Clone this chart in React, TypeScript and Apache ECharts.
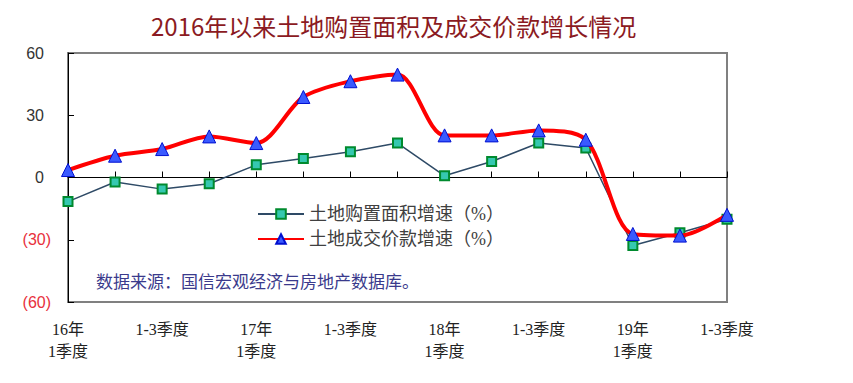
import React, { useEffect, useRef } from "react";
import * as echarts from "echarts";

const categories = [
  "16年\n1季度", "1-2季度", "1-3季度", "1-4季度",
  "17年\n1季度", "1-2季度", "1-3季度", "1-4季度",
  "18年\n1季度", "1-2季度", "1-3季度", "1-4季度",
  "19年\n1季度", "1-2季度", "1-3季度",
];
const areaGrowth = [-11.6, -2.2, -5.6, -3.0, 6.1, 9.2, 12.4, 16.6, 0.8, 7.7, 16.6, 14.2, -32.8, -26.6, -20.1];
const priceGrowth = [3.6, 10.5, 13.7, 19.8, 16.6, 38.8, 46.4, 49.6, 20.3, 20.3, 22.7, 18.2, -27.2, -28.0, -18.0];
const yTicks = [-60, -30, 0, 30, 60];
const seriesNames = ["土地购置面积增速（%）", "土地成交价款增速（%）"];
const titleText = "2016年以来土地购置面积及成交价款增长情况";
const sourceText = "数据来源：国信宏观经济与房地产数据库。";

export default function App() {
  const ref = useRef<HTMLDivElement>(null);
  useEffect(() => {
    document.body.style.margin = "0";
    const chart = echarts.init(ref.current!, null, { renderer: "svg" });
    const cjk = "'Liberation Serif', 'Noto Sans CJK SC', serif";
    chart.setOption({
      animation: false,
      backgroundColor: "#ffffff",
      title: {
        text: titleText,
        left: 146,
        top: 8,
        textStyle: { fontSize: 24, fontWeight: "normal", color: "#8B1A22", fontFamily: "'Noto Sans CJK SC', sans-serif" },
      },
      legend: {
        orient: "vertical",
        left: 252,
        top: 200,
        itemWidth: 46,
        itemHeight: 12,
        itemGap: 7,
        textStyle: { fontSize: 18, color: "#404040", fontFamily: cjk },
        data: seriesNames,
      },
      graphic: [
        {
          type: "text",
          left: 96,
          top: 272,
          style: { text: sourceText, font: "17px 'Noto Sans CJK SC', sans-serif", fill: "#3A3A8C" },
        },
      ],
      grid: {
        left: 68,
        right: 126,
        top: 53,
        bottom: 81,
        show: true,
        borderColor: "#808080",
        borderWidth: 2,
        backgroundColor: "transparent",
      },
      xAxis: [
        {
          type: "category",
          data: categories,
          boundaryGap: false,
          position: "bottom",
          axisLine: { show: false, onZero: false },
          axisTick: { show: false },
          axisLabel: {
            interval: 1,
            margin: 16,
            fontSize: 16,
            lineHeight: 22,
            color: "#222",
            fontFamily: cjk,
          },
          splitLine: { show: false },
        },
        {
          type: "category",
          data: categories,
          boundaryGap: false,
          position: "bottom",
          axisLine: { show: true, onZero: true, lineStyle: { color: "#000", width: 1 } },
          axisTick: { show: true, inside: true, interval: 0, length: 6, lineStyle: { color: "#000" } },
          axisLabel: { show: false },
          splitLine: { show: false },
        },
      ],
      yAxis: {
        type: "value",
        min: yTicks[0],
        max: yTicks[yTicks.length - 1],
        interval: 30,
        axisLine: { show: true, lineStyle: { color: "#000", width: 1 } },
        axisTick: { show: true, inside: true, length: 6, lineStyle: { color: "#000" } },
        splitLine: { show: false },
        axisLabel: {
          margin: 17,
          formatter: (v: number) => (v < 0 ? `{n|(${Math.abs(v)})}` : `{p|${v}}`),
          rich: {
            n: { color: "#E8303C", fontSize: 16, fontFamily: "'Liberation Sans', sans-serif" },
            p: { color: "#333", fontSize: 16, fontFamily: "'Liberation Sans', sans-serif", padding: [0, 7, 0, 0] },
          },
        },
      },
      series: [
        {
          name: seriesNames[0],
          type: "line",
          data: areaGrowth,
          xAxisIndex: 0,
          symbol: "rect",
          symbolSize: 9,
          lineStyle: { color: "#2E4A66", width: 1.5 },
          itemStyle: { color: "#35C8B0", borderColor: "#008A2E", borderWidth: 2 },
          z: 3,
        },
        {
          name: seriesNames[1],
          type: "line",
          data: priceGrowth,
          xAxisIndex: 0,
          smooth: 0.3,
          symbol: "triangle",
          symbolSize: 13,
          lineStyle: { color: "#FF0000", width: 4 },
          itemStyle: { color: "#3A5AFF", borderColor: "#0010D0", borderWidth: 1 },
          z: 4,
        },
      ],
    });
    return () => chart.dispose();
  }, []);
  return <div ref={ref} style={{ position: "fixed", left: 0, top: 0, width: 853, height: 383 }} />;
}
